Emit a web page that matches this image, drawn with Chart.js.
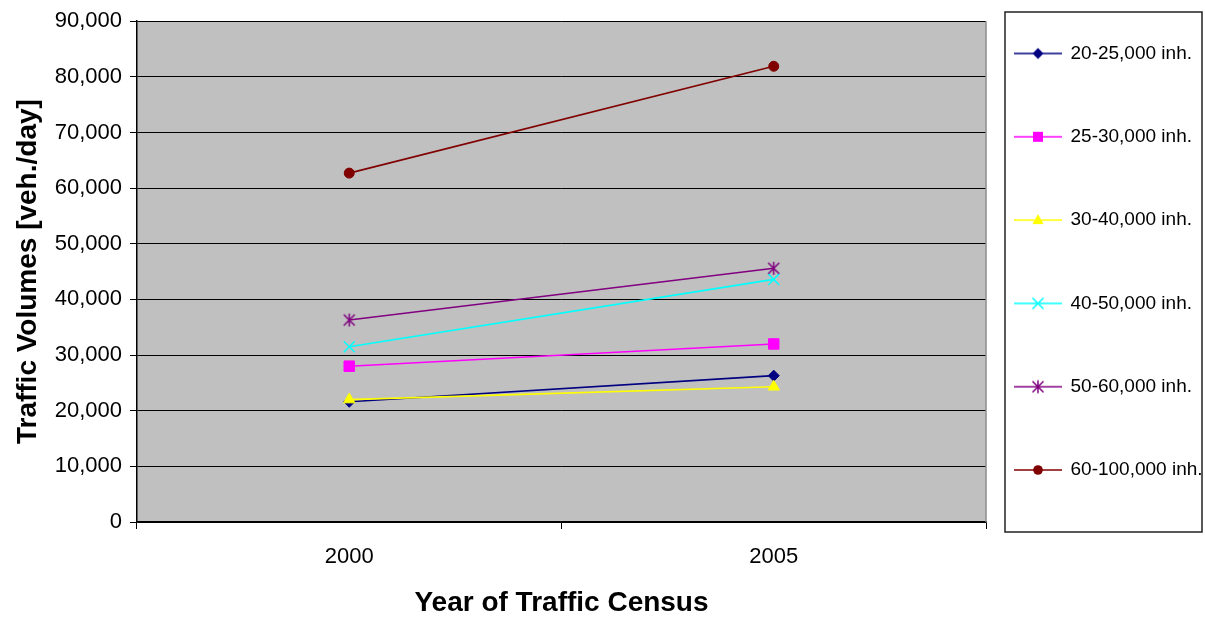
<!DOCTYPE html>
<html>
<head>
<meta charset="utf-8">
<style>
  html, body { margin: 0; padding: 0; background: #fff; }
  #wrap { width: 1205px; height: 622px; position: relative; }
</style>
<script src="https://cdn.jsdelivr.net/npm/chart.js@4/dist/chart.umd.min.js"></script>
</head>
<body>
<div id="wrap"><canvas id="c"></canvas></div>
<script>
// Census years on the x axis
const years = ['2000', '2005'];

// Average daily traffic per town size class [veh./day]
const v20to25 = [21600, 26300];
const v25to30 = [28000, 32000];
const v30to40 = [22000, 24300];
const v40to50 = [31500, 43600];
const v50to60 = [36300, 45600];
const v60to100 = [62700, 81900];

const seriesLabels = ['20-25,000 inh.', '25-30,000 inh.', '30-40,000 inh.',
                      '40-50,000 inh.', '50-60,000 inh.', '60-100,000 inh.'];
const seriesValues = [v20to25, v25to30, v30to40, v40to50, v50to60, v60to100];

// y axis range
const yMin = 0, yMax = 90000, yStep = 10000;

const FONT = "'Liberation Sans', Arial, sans-serif";
const colors = ['#000080', '#FF00FF', '#FFFF00', '#00FFFF', '#800080', '#800000'];
const markers = ['diamond', 'square', 'triangle', 'x', 'star', 'circle'];

// Draws one marker shape on a plain 2D context
function drawMarker(ctx, kind, x, y, color) {
  ctx.save();
  ctx.fillStyle = color;
  ctx.strokeStyle = color;
  ctx.lineWidth = 1.5;
  ctx.beginPath();
  if (kind === 'diamond') {
    ctx.moveTo(x, y - 5.5); ctx.lineTo(x + 5.5, y); ctx.lineTo(x, y + 5.5); ctx.lineTo(x - 5.5, y);
    ctx.closePath(); ctx.fill();
  } else if (kind === 'square') {
    ctx.rect(x - 5, y - 5, 10, 10); ctx.fill();
  } else if (kind === 'triangle') {
    ctx.moveTo(x, y - 6); ctx.lineTo(x + 5.6, y + 4); ctx.lineTo(x - 5.6, y + 4);
    ctx.closePath(); ctx.fill();
  } else if (kind === 'x') {
    ctx.moveTo(x - 5.5, y - 5.5); ctx.lineTo(x + 5.5, y + 5.5);
    ctx.moveTo(x + 5.5, y - 5.5); ctx.lineTo(x - 5.5, y + 5.5);
    ctx.stroke();
  } else if (kind === 'star') {
    ctx.moveTo(x - 5.5, y - 5.5); ctx.lineTo(x + 5.5, y + 5.5);
    ctx.moveTo(x + 5.5, y - 5.5); ctx.lineTo(x - 5.5, y + 5.5);
    ctx.moveTo(x, y - 6.5); ctx.lineTo(x, y + 6.5);
    ctx.stroke();
  } else {
    ctx.arc(x, y, 4.8, 0, Math.PI * 2); ctx.fill();
  }
  ctx.restore();
}

// Asterisk marker (X with a vertical bar) used as a point image
function starImage(color) {
  const c = document.createElement('canvas');
  c.width = 15; c.height = 15;
  drawMarker(c.getContext('2d'), 'star', 7.5, 7.5, color);
  return c;
}

// Legend symbol: a short line with the series marker in its middle
function legendSymbol(kind, color) {
  const c = document.createElement('canvas');
  c.width = 48; c.height = 16;
  const g = c.getContext('2d');
  g.strokeStyle = color; g.lineWidth = 1.5;
  g.beginPath(); g.moveTo(0, 8); g.lineTo(48, 8); g.stroke();
  drawMarker(g, kind, 24, 8, color);
  return c;
}

const pointSetup = {
  diamond:  { pointStyle: 'rectRot', pointRadius: 5.5 },
  square:   { pointStyle: 'rect', pointRadius: 7.4 },
  triangle: { pointStyle: 'triangle', pointRadius: 6.5 },
  x:        { pointStyle: 'crossRot', pointRadius: 7.8 },
  star:     null,
  circle:   { pointStyle: 'circle', pointRadius: 5 }
};

const legendSymbols = markers.map((m, i) => legendSymbol(m, colors[i]));

const datasets = seriesValues.map((vals, i) => {
  const kind = markers[i];
  const ps = pointSetup[kind] || { pointStyle: starImage(colors[i]), pointRadius: 7 };
  return {
    label: seriesLabels[i],
    data: vals,
    borderColor: colors[i],
    backgroundColor: colors[i],
    borderWidth: 1.6,
    pointStyle: ps.pointStyle,
    pointRadius: ps.pointRadius,
    pointHoverRadius: ps.pointRadius,
    pointBackgroundColor: colors[i],
    pointBorderColor: colors[i],
    pointBorderWidth: kind === 'x' ? 1.5 : 1,
    tension: 0,
    // later series are painted above earlier ones
    order: seriesValues.length - i
  };
});

// Grey plot area and its right-hand frame edge
const plotArea = {
  id: 'plotArea',
  beforeDraw(chart) {
    const { ctx, chartArea: a } = chart;
    ctx.save();
    ctx.fillStyle = '#C0C0C0';
    ctx.fillRect(a.left, a.top, a.right - a.left, a.bottom - a.top);
    ctx.restore();
  },
  beforeDatasetsDraw(chart) {
    const { ctx, chartArea: a } = chart;
    ctx.save();
    ctx.strokeStyle = '#8C8C8C';
    ctx.lineWidth = 1.5;
    ctx.beginPath();
    ctx.moveTo(a.right, a.top);
    ctx.lineTo(a.right, a.bottom);
    ctx.stroke();
    ctx.restore();
  }
};

// Frame around the legend
const legendFrame = {
  id: 'legendFrame',
  afterDraw(chart) {
    const lg = chart.legend;
    if (!lg) return;
    const { ctx } = chart;
    const x = lg.left + 19, y = lg.top - 3;
    ctx.save();
    ctx.strokeStyle = '#222';
    ctx.lineWidth = 1.5;
    ctx.strokeRect(x, y, lg.right - 3 - x, 520);
    ctx.restore();
  }
};

new Chart(document.getElementById('c'), {
  type: 'line',
  data: { labels: years, datasets },
  options: {
    responsive: true,
    maintainAspectRatio: false,
    animation: false,
    events: [],
    layout: { padding: { top: 15, left: 0, right: 0, bottom: 0 } },
    plugins: {
      tooltip: { enabled: false },
      legend: {
        position: 'right',
        align: 'start',
        maxWidth: 219,
        labels: {
          usePointStyle: true,
          pointStyleWidth: 46,
          padding: 29,
          color: '#000',
          font: { family: FONT, size: 19, lineHeight: 54.3 / 19 },
          generateLabels(chart) {
            return chart.data.datasets.map((ds, i) => ({
              text: [ds.label],
              datasetIndex: i,
              pointStyle: legendSymbols[i],
              fillStyle: ds.backgroundColor,
              strokeStyle: ds.borderColor,
              lineWidth: 0,
              hidden: false,
              fontColor: '#000'
            }));
          }
        }
      }
    },
    scales: {
      x: {
        type: 'category',
        offset: true,
        grid: {
          offset: true,
          drawOnChartArea: false,
          drawTicks: true,
          tickLength: 7,
          color: '#000',
          lineWidth: 1
        },
        border: { display: true, color: '#000', width: 1.5 },
        ticks: { color: '#000', padding: 15, font: { family: FONT, size: 22 } },
        title: {
          display: true,
          text: 'Year of Traffic Census',
          color: '#000',
          font: { family: FONT, size: 28, weight: 'bold' },
          padding: { top: 0.8, bottom: 2.2 }
        }
      },
      y: {
        min: yMin,
        max: yMax,
        grid: {
          color: '#000',
          lineWidth: 1,
          drawTicks: true,
          tickLength: 7
        },
        border: { display: true, color: '#000', width: 1.5 },
        ticks: {
          stepSize: yStep,
          color: '#000',
          padding: 8,
          font: { family: FONT, size: 22 },
          callback: v => v.toLocaleString('en-US')
        },
        title: {
          display: true,
          text: 'Traffic Volumes [veh./day]',
          color: '#000',
          font: { family: FONT, size: 28, weight: 'bold' },
          padding: { top: 11.2, bottom: 1.9 }
        }
      }
    }
  },
  plugins: [plotArea, legendFrame]
});
</script>
</body>
</html>
